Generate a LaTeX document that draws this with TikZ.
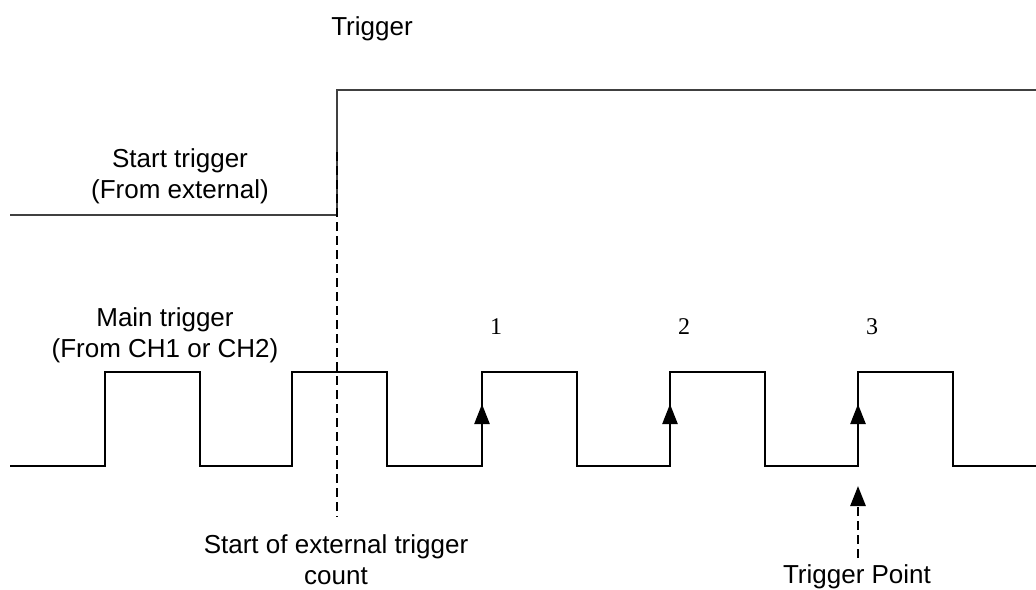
\documentclass[tikz,border=0pt]{standalone}
\usepackage{fontspec}
\setmainfont{Liberation Sans}
\newfontfamily\numfont{Liberation Serif}
\usetikzlibrary{arrows.meta}

\begin{document}
\begin{tikzpicture}[x=1pt,y=-1pt,
    every node/.style={font=\fontsize{26}{31}\selectfont, align=center, inner sep=0pt},
    startwave/.style={line width=1.8pt, draw=black!75},
    mainwave/.style={line width=1.3pt},
    countlabel/.style={font=\fontsize{24}{28}\numfont},
    risearrow/.style={line width=2.4pt, -{Triangle[length=20pt,width=15pt]}},
    dashline/.style={line width=2.8pt, dash pattern=on 9pt off 5pt}]
    \useasboundingbox (0,0) rectangle (1036,589);

    % Levels of the two signals
    \def\lo{466}
    \def\hi{372}
    \def\w{95}

    % Start trigger from outside
    \draw[startwave] (10,215) -- (337,215) -- (337,90) -- (1036,90);
    \node[anchor=base] (trig) at (372,35) {Trigger};
    \node[anchor=base] (startlbl) at (180,198) {Start trigger\\(From external)};

    % Main trigger pulses
    \draw[mainwave] (10,\lo)
        \foreach \r in {105,292,482,670,858} {
            -- (\r,\lo) -- (\r,\hi) -- ({\r+\w},\hi) -- ({\r+\w},\lo)
        } -- (1036,\lo);
    \node[anchor=base] (mainlbl) at (165,357) {Main trigger\\(From CH1 or CH2)};

    % Counted rising edges
    \foreach \r/\n in {482/1,670/2,858/3} {
        \coordinate (foot\n) at (\r,\lo);
        \coordinate (tip\n) at (\r,404);
        \draw[risearrow] (foot\n) -- (tip\n);
        \node[countlabel, anchor=base] (num\n) at ({\r+14},334) {\n};
    }

    % Where the count starts
    \coordinate (dtop) at (337,152);
    \coordinate (dbot) at (337,517);
    \draw[dashline] (dtop) -- (dbot);
    \node[anchor=base] (countlbl) at (336,584) {Start of external trigger\\count};

    % Trigger point
    \node[anchor=base] (tplbl) at (857,583) {Trigger Point};
    \coordinate (tpfoot) at (858,558);
    \coordinate (tphead) at (858,486);
    \draw[dashline, -{Triangle[length=20pt,width=15pt]}] (tpfoot) -- (tphead);

\end{tikzpicture}
\end{document}
